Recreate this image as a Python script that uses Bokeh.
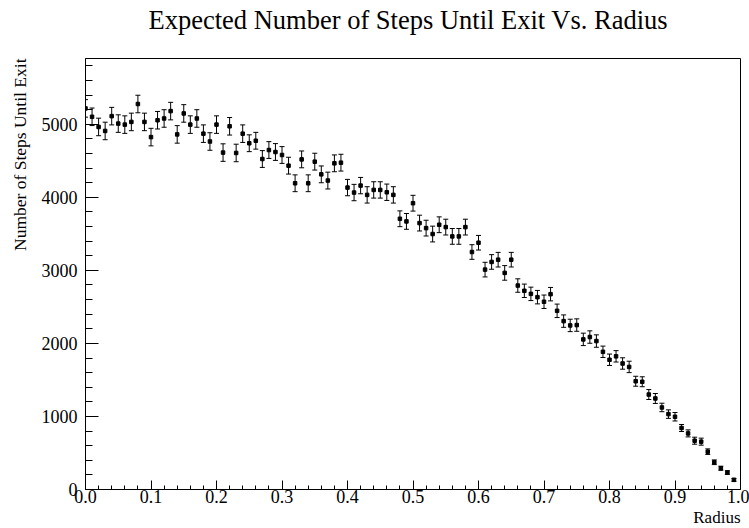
from bokeh.plotting import figure
from bokeh.models import (ColumnDataSource, Whisker, TeeHead, Title,
                          SingleIntervalTicker, PrintfTickFormatter)
from bokeh.embed import file_html
from bokeh.resources import INLINE

# Mean number of steps before the walker leaves the disc, per starting radius
radius = [round(i * 0.01, 2) for i in range(100)]

steps = [
    5217, 5102, 4963, 4908, 5111, 5009, 4995, 5032, 5277, 5032,
    4824, 5055, 5079, 5180, 4861, 5148, 4995, 5079, 4871, 4764,
    4995, 4612, 4972, 4607, 4871, 4740, 4774, 4524, 4647, 4620,
    4579, 4433, 4192, 4519, 4192, 4488, 4314, 4229, 4465, 4474,
    4133, 4065, 4160, 4033, 4101, 4101, 4069, 4033, 3706, 3670,
    3919, 3647, 3578, 3497, 3624, 3592, 3465, 3465, 3592, 3251,
    3378, 3010, 3115, 3146, 2965, 3146, 2792, 2720, 2678, 2633,
    2570, 2674, 2446, 2305, 2246, 2251, 2055, 2087, 2032, 1885,
    1776, 1823, 1725, 1678, 1482, 1475, 1300, 1246, 1123, 1032,
    996, 842, 768, 668, 655, 518, 373, 291, 232, 132,
]

# Statistical uncertainty on each mean
errors = [
    120, 120, 120, 120, 120, 120, 120, 120, 120, 120,
    120, 120, 120, 120, 120, 120, 120, 120, 120, 120,
    120, 120, 120, 120, 120, 115, 115, 115, 115, 115,
    115, 115, 115, 115, 115, 115, 115, 115, 115, 115,
    112, 112, 112, 112, 112, 112, 112, 112, 108, 108,
    108, 108, 108, 108, 108, 108, 108, 108, 108, 100,
    100, 100, 100, 100, 100, 100, 92, 92, 92, 92,
    92, 92, 92, 85, 85, 85, 85, 85, 85, 78,
    78, 78, 78, 78, 68, 68, 68, 68, 58, 58,
    58, 48, 48, 48, 48, 38, 32, 28, 25, 20,
]

x_ticks_interval = 0.1
y_ticks_interval = 1000

FONT = "Liberation Serif"

src = ColumnDataSource(dict(
    x=radius,
    y=steps,
    lower=[v - e for v, e in zip(steps, errors)],
    upper=[v + e for v, e in zip(steps, errors)],
))

p = figure(
    width=749, height=528,
    x_range=(0.0, 1.0), y_range=(0, 5900),
    output_backend="svg", toolbar_location=None,
    min_border_left=85, min_border_right=9,
    min_border_top=57, min_border_bottom=39,
    background_fill_color="white", border_fill_color="white",
)

# gap between the frame and the main title
p.add_layout(Title(text=" ", text_font_size="10px", standoff=5), "above")

p.title.text = "Expected Number of Steps Until Exit Vs. Radius"
p.title.text_font = FONT
p.title.text_font_size = "26.5px"
p.title.text_font_style = "normal"
p.title.align = "left"
p.title.offset = 63
p.title.vertical_align = "top"
p.title.text_color = "black"
p.title.standoff = 8

p.outline_line_color = "black"
p.outline_line_width = 1
p.outline_line_alpha = 1.0
p.xgrid.visible = False
p.ygrid.visible = False

xa = p.xaxis[0]
xa.ticker = SingleIntervalTicker(interval=x_ticks_interval, num_minor_ticks=5)
xa.formatter = PrintfTickFormatter(format="%.1f")
xa.major_tick_in = 9
xa.major_tick_out = 0
xa.minor_tick_in = 4
xa.minor_tick_out = 0
xa.major_label_standoff = 0
xa.major_label_text_font = FONT
xa.major_label_text_font_size = "18px"
xa.major_label_text_color = "black"
xa.axis_line_color = "black"
xa.major_tick_line_color = "black"
xa.minor_tick_line_color = "black"

ya = p.yaxis[0]
ya.ticker = SingleIntervalTicker(interval=y_ticks_interval, num_minor_ticks=5)
ya.formatter = PrintfTickFormatter(format="%d")
ya.major_tick_in = 13
ya.major_tick_out = 0
ya.minor_tick_in = 7
ya.minor_tick_out = 0
ya.major_label_standoff = 8
ya.major_label_text_font = FONT
ya.major_label_text_font_size = "18px"
ya.major_label_text_color = "black"
ya.axis_line_color = "black"
ya.major_tick_line_color = "black"
ya.minor_tick_line_color = "black"

# axis titles placed at the far end of each axis
p.add_layout(Title(
    text="Radius", align="right", vertical_align="bottom", standoff=1,
    text_font=FONT, text_font_size="17px", text_font_style="normal",
    text_color="black",
), "below")
p.add_layout(Title(
    text="Number of Steps Until Exit", align="right", vertical_align="middle",
    standoff=15.5, text_font=FONT, text_font_size="17.5px",
    text_font_style="normal", text_color="black",
), "left")

# error bars with small caps, then the point markers
whisk = Whisker(
    source=src, base="x", upper="upper", lower="lower",
    line_color="black", line_width=1,
    upper_head=TeeHead(size=5, line_color="black", line_width=1),
    lower_head=TeeHead(size=5, line_color="black", line_width=1),
)
p.add_layout(whisk)
p.scatter("x", "y", source=src, marker="square", size=3.5,
          fill_color="black", line_color="black")

open("out.html", "w").write(file_html(p, INLINE))
